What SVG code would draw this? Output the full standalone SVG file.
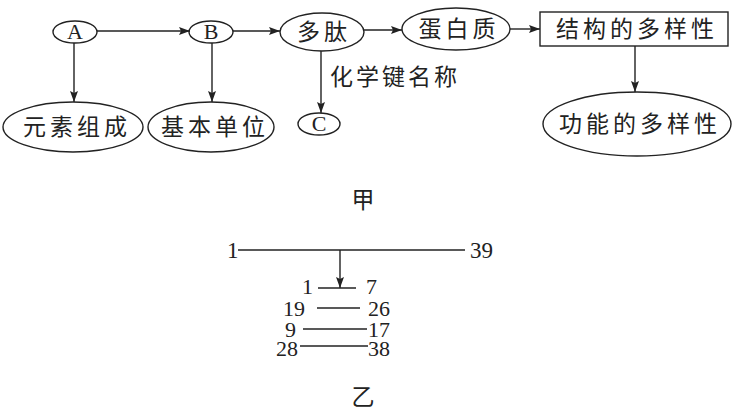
<svg xmlns="http://www.w3.org/2000/svg" width="734" height="413" viewBox="0 0 734 413">
<defs>
<marker id="ah" markerUnits="userSpaceOnUse" markerWidth="12" markerHeight="8" refX="11" refY="4" orient="auto">
<path d="M0,0 L11,4 L0,8 L2,4 Z" fill="#222"/>
</marker>
</defs>
<style>
.shape{fill:none;stroke:#222;stroke-width:1.4}
.cn{font-family:"Noto Sans CJK SC","Noto Sans",sans-serif;font-size:23px;fill:#222;text-anchor:middle;letter-spacing:4px}
.lt{font-family:"Liberation Serif","DejaVu Serif",serif;font-size:22px;fill:#222;text-anchor:middle}
.num{font-family:"Liberation Serif","DejaVu Serif",serif;font-size:23px;fill:#222}
.row{font-family:"Liberation Serif","DejaVu Serif",serif;font-size:22px;fill:#222}
.ln{stroke:#222;stroke-width:1.4;fill:none}
.arr{stroke:#222;stroke-width:1.4;fill:none;marker-end:url(#ah)}
</style>
<rect width="734" height="413" fill="#fff"/>
<g id="nodeA"><ellipse class="shape" cx="75" cy="32" rx="22" ry="11"/><text class="lt" x="75" y="39">A</text></g>
<g id="nodeB"><ellipse class="shape" cx="211" cy="32" rx="22" ry="11"/><text class="lt" x="211" y="39">B</text></g>
<g id="nodeDuotai"><ellipse class="shape" cx="322" cy="32" rx="42" ry="19"/><text class="cn" x="324" y="40">多肽</text></g>
<g id="nodeDanbaizhi"><ellipse class="shape" cx="456" cy="29" rx="54" ry="21"/><text class="cn" x="459" y="37">蛋白质</text></g>
<g id="nodeStructure"><rect class="shape" x="540" y="12" width="188" height="34"/><text class="cn" x="637" y="37">结构的多样性</text></g>
<g id="nodeFunction"><ellipse class="shape" cx="637" cy="124" rx="94" ry="32"/><text class="cn" x="640" y="132">功能的多样性</text></g>
<g id="nodeElements"><ellipse class="shape" cx="73" cy="127" rx="70" ry="25"/><text class="cn" x="77" y="135">元素组成</text></g>
<g id="nodeUnit"><ellipse class="shape" cx="211" cy="127" rx="63" ry="25"/><text class="cn" x="215" y="135">基本单位</text></g>
<g id="nodeC"><ellipse class="shape" cx="319" cy="124" rx="21" ry="11"/><text class="lt" x="319" y="131">C</text></g>
<g id="connectors">
<line class="arr" x1="97" y1="31" x2="190" y2="31"/>
<line class="arr" x1="233" y1="31" x2="280" y2="31"/>
<line class="arr" x1="364" y1="30" x2="402" y2="30"/>
<line class="arr" x1="510" y1="29" x2="540" y2="29"/>
<line class="arr" x1="74" y1="43" x2="74" y2="102"/>
<line class="arr" x1="212" y1="43" x2="212" y2="102"/>
<line class="arr" x1="321" y1="51" x2="321" y2="113"/>
<line class="arr" x1="635" y1="46" x2="635" y2="92"/>
</g>
<text class="cn" x="330" y="85" style="text-anchor:start;letter-spacing:3px">化学键名称</text>
<text class="cn" x="363" y="208" style="letter-spacing:0">甲</text>
<g id="chain">
<text class="num" x="227" y="258">1</text>
<line class="ln" x1="238" y1="250" x2="465" y2="250"/>
<text class="num" x="470" y="258">39</text>
<line class="arr" x1="340" y1="250" x2="340" y2="288"/>
<text class="row" x="302" y="294">1</text>
<line class="ln" x1="318" y1="288" x2="356" y2="288"/>
<text class="row" x="366" y="294">7</text>
<text class="row" x="283" y="316">19</text>
<line class="ln" x1="317" y1="308" x2="360" y2="308"/>
<text class="row" x="368" y="316">26</text>
<text class="row" x="285" y="337">9</text>
<line class="ln" x1="303" y1="329" x2="367" y2="329"/>
<text class="row" x="368" y="337">17</text>
<text class="row" x="276" y="356">28</text>
<line class="ln" x1="300" y1="346" x2="368" y2="346"/>
<text class="row" x="368" y="356">38</text>
</g>
<text class="cn" x="363" y="405" style="letter-spacing:0">乙</text>
</svg>
